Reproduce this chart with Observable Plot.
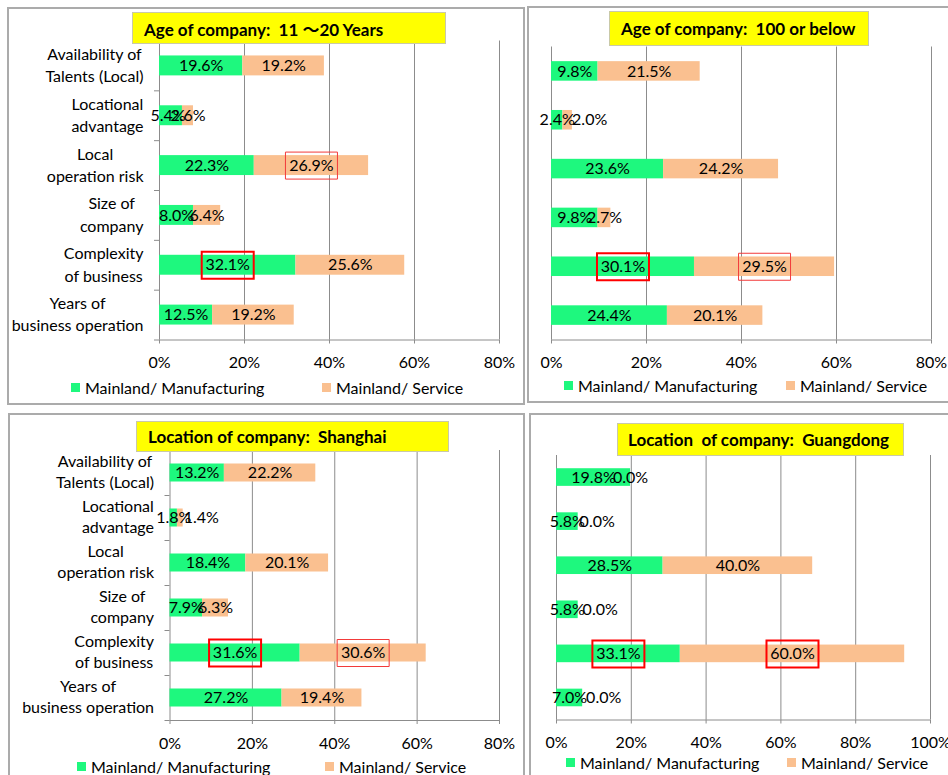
<!DOCTYPE html>
<html><head><meta charset="utf-8">
<script src="https://cdn.jsdelivr.net/npm/d3@7"></script>
<script src="https://cdn.jsdelivr.net/npm/@observablehq/plot@0.6"></script>
<style>
body{margin:0;background:#fff;font-family:Lato,"Noto Sans",sans-serif;}
#root{position:relative;width:948px;height:775px;overflow:hidden;background:#fff;}
.panel{position:absolute;border:2px solid #ABABAB;box-sizing:border-box;}
.title{position:absolute;background:#FFFF00;border:1px solid #C9C9A8;box-sizing:border-box;font-family:Lato,"Noto Sans CJK JP",sans-serif;font-weight:bold;font-size:17px;white-space:pre;display:flex;align-items:center;color:#000;}
.leg{position:absolute;font-size:16px;white-space:pre;display:flex;align-items:center;height:20px;color:#000;}
.sw{position:absolute;width:9px;height:9px;}
svg.chart{position:absolute;}
</style></head><body><div id="root"></div>
<script>
const categories = ["Availability of\nTalents (Local)", "Locational\nadvantage", "Local\noperation risk", "Size of\ncompany", "Complexity\nof business", "Years of\nbusiness operation"];
const seriesNames = ["Mainland/ Manufacturing", "Mainland/ Service"];
const seriesColors = ["#1EF87E", "#FAC090"];
const xTicks80 = [0, 20, 40, 60, 80];
const xTicks100 = [0, 20, 40, 60, 80, 100];

const age1120Manufacturing = [19.6, 5.4, 22.3, 8.0, 32.1, 12.5];
const age1120Service = [19.2, 2.6, 26.9, 6.4, 25.6, 19.2];
const age100Manufacturing = [9.8, 2.4, 23.6, 9.8, 30.1, 24.4];
const age100Service = [21.5, 2.0, 24.2, 2.7, 29.5, 20.1];
const shanghaiManufacturing = [13.2, 1.8, 18.4, 7.9, 31.6, 27.2];
const shanghaiService = [22.2, 1.4, 20.1, 6.3, 30.6, 19.4];
const guangdongManufacturing = [19.8, 5.8, 28.5, 5.8, 33.1, 7.0];
const guangdongService = [0.0, 0.0, 40.0, 0.0, 60.0, 0.0];

// highlighted labels: [series index, category index]
const age1120BoxThick = [[0, 4]];
const age1120BoxThin = [[1, 2]];
const age100BoxThick = [[0, 4]];
const age100BoxThin = [[1, 4]];
const shanghaiBoxThick = [[0, 4]];
const shanghaiBoxThin = [[1, 4]];
const guangdongBoxThick = [[0, 4], [1, 4]];
const guangdongBoxThin = [];

const panelTitles = ["Age of company:  11 ～20 Years", "Age of company:  100 or below", "Location of company:  Shanghai", "Location  of company:  Guangdong"];

// layout (pixels) — label nudges are [series, category, dx]
const panels = [
  {title: panelTitles[0], series: [age1120Manufacturing, age1120Service], thick: age1120BoxThick, thin: age1120BoxThin, ticks: xTicks80,
   box: [7, 7, 518, 398], frame: [159, 499, 40.5, 339.5], tbox: [132, 12, 314, 32], tpad: 11, legendY: 387, sw: [71, 322], labels: true, lh: 1.4,
   nudges: [[0, 1, -3]]},
  {title: panelTitles[1], series: [age100Manufacturing, age100Service], thick: age100BoxThick, thin: age100BoxThin, ticks: xTicks80,
   box: [527, 6, 440, 397], frame: [551, 931, 46.5, 339.5], tbox: [609, 11, 260, 35], tpad: 11, legendY: 385, sw: [564, 786], labels: false,
   nudges: [[1, 1, 22]]},
  {title: panelTitles[2], series: [shanghaiManufacturing, shanghaiService], thick: shanghaiBoxThick, thin: shanghaiBoxThin, ticks: xTicks80,
   box: [8, 413, 517, 380], frame: [169.5, 499, 450, 720], tbox: [136, 421, 313, 31], tpad: 11, legendY: 766, sw: [77, 325], labels: true, lh: 1.32,
   nudges: [[1, 1, 21]]},
  {title: panelTitles[3], series: [guangdongManufacturing, guangdongService], thick: guangdongBoxThick, thin: guangdongBoxThin, ticks: xTicks100,
   box: [529, 413, 440, 380], frame: [556, 930, 455, 719.5], tbox: [617, 423, 287, 33], tpad: 10, legendY: 762, sw: [566, 787], labels: false,
   nudges: [[1, 1, 19], [1, 3, 22], [1, 5, 21]]}
];

const boxSymbol = {draw(ctx) { ctx.rect(-26, -13.5, 52, 27); }};
const root = document.getElementById("root");
const fmt = d => d.value.toFixed(1) + "%";

for (const p of panels) {
  const [bl, bt, bw, bh] = p.box;
  const [x0, x1, y0, y1] = p.frame;
  const left = bl + 2, top = bt + 2;
  const width = Math.min(bw - 4, 948 - left + 40);
  const height = Math.round(y1 - top + 40);
  const step = (y1 - y0) / categories.length;

  const rows = [];
  categories.forEach((c, i) => {
    let acc = 0;
    p.series.forEach((vals, s) => {
      const v = vals[i];
      rows.push({category: c, ci: i, s, value: v, x1: acc, x2: acc + v, mid: acc + v / 2});
      acc += v;
    });
  });
  const pick = (list) => rows.filter(r => list.some(([s, ci]) => r.s === s && r.ci === ci));
  const nudged = (r) => p.nudges.some(([s, ci]) => r.s === s && r.ci === ci);

  const marks = [
    Plot.gridX(p.ticks.filter(t => t > 0), {stroke: "#8C8C8C", strokeOpacity: 1}),
    Plot.ruleX([0], {stroke: "#8C8C8C"}),
    Plot.ruleY([categories[categories.length - 1]], {stroke: "#8C8C8C", dy: step / 2}),
    ...seriesNames.map((n, s) => Plot.barX(rows.filter(r => r.s === s), {x1: "x1", x2: "x2", y: "category", fill: seriesColors[s]})),
    Plot.text(rows.filter(r => !nudged(r)), {x: "mid", y: "category", text: fmt, fill: "#000", fontSize: 16}),
    ...p.nudges.map(([s, ci, dx]) => Plot.text(pick([[s, ci]]), {x: "mid", y: "category", text: fmt, fill: "#000", fontSize: 16, dx})),
    Plot.dot(pick(p.thin), {x: "mid", y: "category", symbol: boxSymbol, r: 10, fill: "none", stroke: "#F23A3A", strokeWidth: 1}),
    Plot.dot(pick(p.thick), {x: "mid", y: "category", symbol: boxSymbol, r: 10, fill: "none", stroke: "#FF0000", strokeWidth: 2}),
    Plot.axisX(p.ticks, {tickSize: 4, tickPadding: 13, tickFormat: d => d + "%", stroke: "#8C8C8C", fill: "#000", fontSize: 16, label: null})
  ];
  if (p.labels) {
    marks.push(Plot.axisY({tickSize: 5, tickFormat: () => "", stroke: "#8C8C8C", dy: step / 2, label: null}));
    marks.push(Plot.axisY({tickSize: 0, tickPadding: 16, tickFormat: d => d, fill: "#000", fontSize: 16, lineHeight: p.lh, dy: -2, label: null}));
  }

  const svg = Plot.plot({
    width, height,
    marginLeft: x0 - left, marginRight: width - (x1 - left),
    marginTop: y0 - top, marginBottom: height - (y1 - top),
    x: {domain: [0, p.ticks[p.ticks.length - 1]], axis: null},
    y: {domain: categories, paddingInner: 0.6, paddingOuter: 0.3, round: false, axis: null},
    style: {background: "transparent", fontFamily: "Lato, 'Noto Sans', sans-serif", overflow: "visible"},
    marks
  });
  svg.classList.add("chart");
  svg.style.left = left + "px";
  svg.style.top = top + "px";
  svg.style.maxWidth = "none";
  root.appendChild(svg);

  // center each multi-line category label within its own block (block right-aligned)
  svg.querySelectorAll('g[aria-label="y-axis tick label"] text').forEach(t => {
    let w = 0;
    t.querySelectorAll("tspan").forEach(s => { w = Math.max(w, s.getComputedTextLength()); });
    if (!t.querySelector("tspan")) w = t.getComputedTextLength();
    t.setAttribute("text-anchor", "middle");
    t.setAttribute("transform", (t.getAttribute("transform") || "") + ` translate(${-w / 2},0)`);
  });

  const border = document.createElement("div");
  border.className = "panel";
  Object.assign(border.style, {left: bl + "px", top: bt + "px", width: bw + "px", height: bh + "px"});
  root.appendChild(border);

  const [tl, tt, tw, th] = p.tbox;
  const title = document.createElement("div");
  title.className = "title";
  title.textContent = p.title;
  Object.assign(title.style, {left: tl + "px", top: tt + "px", width: tw + "px", height: th + "px", paddingLeft: p.tpad + "px"});
  root.appendChild(title);

  seriesNames.forEach((n, s) => {
    const sw = document.createElement("div");
    sw.className = "sw";
    Object.assign(sw.style, {left: p.sw[s] + "px", top: (p.legendY - 4.5) + "px", background: seriesColors[s]});
    root.appendChild(sw);
    const lab = document.createElement("div");
    lab.className = "leg";
    lab.textContent = n;
    Object.assign(lab.style, {left: (p.sw[s] + 14) + "px", top: (p.legendY - 10) + "px"});
    root.appendChild(lab);
  });
}
</script></body></html>
